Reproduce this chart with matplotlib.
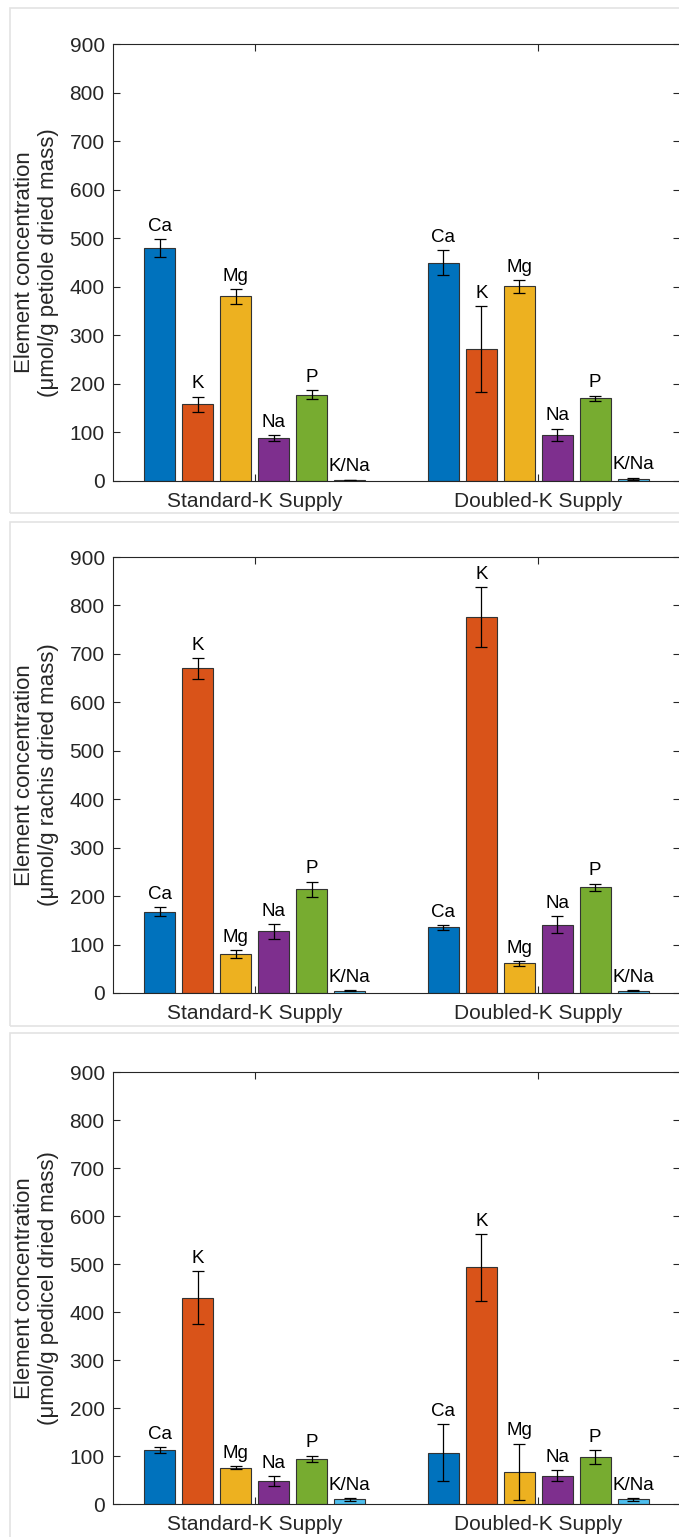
import matplotlib.pyplot as plt
import matplotlib.patches as patches
import numpy as np

plt.rcParams['font.family'] = ['Liberation Sans', 'DejaVu Sans']

# Data
groups = ['Standard-K Supply', 'Doubled-K Supply']
elements = ['Ca', 'K', 'Mg', 'Na', 'P', 'K/Na']
colors = ['#0072BD', '#D95319', '#EDB120', '#7E2F8E', '#77AC30', '#4DBEEE']

tissues = ['petiole', 'rachis', 'pedicel']

# mean values [standard, doubled] for each element
petiole_mean = [[480, 158, 380, 89, 178, 2],
                [450, 272, 401, 95, 170, 5]]
petiole_err = [[18, 16, 16, 6, 9, 0.8],
               [25, 88, 13, 13, 6, 2]]

rachis_mean = [[168, 670, 81, 127, 214, 5],
               [136, 776, 61, 141, 218, 5]]
rachis_err = [[10, 22, 8, 16, 16, 1],
              [5, 62, 5, 18, 8, 1]]

pedicel_mean = [[113, 430, 76, 48, 94, 10],
                [107, 493, 67, 59, 98, 10]]
pedicel_err = [[6, 55, 3, 11, 7, 3],
               [60, 70, 59, 12, 14, 3]]

means = [petiole_mean, rachis_mean, pedicel_mean]
errs = [petiole_err, rachis_err, pedicel_err]

# layout in pixels (top, bottom of axes) and panel frames
W, H = 679, 1537
axes_px = [(44, 481), (557, 993), (1072, 1504)]
frames_px = [(8, 513), (522, 1026), (1033, 1545)]
ax_left, ax_right = 113, 680

fig = plt.figure(figsize=(W / 100, H / 100), dpi=100)

for (ftop, fbot) in frames_px:
    rect = patches.Rectangle((10 / W, 1 - fbot / H), 700 / W, (fbot - ftop) / H,
                             transform=fig.transFigure, fill=False,
                             edgecolor='#e3e3e3', linewidth=1.2)
    fig.patches.append(rect)

spacing = 0.134
bw = 0.11
x = np.array([1, 2])

for k in range(3):
    top, bot = axes_px[k]
    ax = fig.add_axes([ax_left / W, 1 - bot / H, (ax_right - ax_left) / W, (bot - top) / H])
    m = np.array(means[k])
    e = np.array(errs[k])
    for i in range(len(elements)):
        xi = x + (i - 2.5) * spacing
        ax.bar(xi, m[:, i], bw, color=colors[i], edgecolor='#333333', linewidth=0.8)
        ax.errorbar(xi, m[:, i], yerr=e[:, i], fmt='none', ecolor='black',
                    elinewidth=0.9, capsize=4, capthick=0.9)
        for j in range(2):
            ax.annotate(elements[i], (xi[j], m[j, i] + e[j, i]), xytext=(0, 3),
                        textcoords='offset points', ha='center', va='bottom',
                        fontsize=13.5, color='black')
    ax.set_xlim(0.5, 2.5)
    ax.set_ylim(0, 900)
    ax.set_yticks(np.arange(0, 901, 100))
    ax.set_xticks(x)
    ax.set_xticklabels(groups)
    ax.tick_params(axis='y', pad=6)
    ax.tick_params(axis='x', pad=8)
    ax.tick_params(direction='in', length=5, width=0.8, top=True, right=True,
                   labelsize=15, colors='#262626')
    for s in ax.spines.values():
        s.set_color('#262626')
        s.set_linewidth(0.8)
    ax.set_ylabel('Element concentration\n(\u03bcmol/g %s dried mass)' % tissues[k],
                  fontsize=16, color='#262626', linespacing=1.2)
    ax.yaxis.set_label_coords(-0.095, 0.5)

fig.savefig('out.png', dpi=100)
